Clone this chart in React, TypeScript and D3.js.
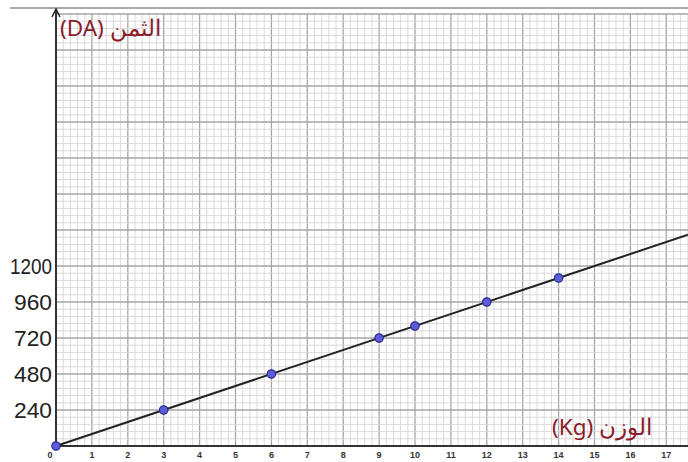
import React from "react";
import * as d3 from "d3";

const weights = [0, 3, 6, 9, 10, 12, 14];
const prices = [0, 240, 480, 720, 800, 960, 1120];
const yTickLabels = [240, 480, 720, 960, 1200];
const xTickLabels = d3.range(0, 18);
const pricePerKg = 80;

const W = 688;
const H = 462;

export default function App() {
  const x = d3.scaleLinear().domain([0, 17]).range([56, 666.3]);
  const y = d3.scaleLinear().domain([0, 2880]).range([446, 14]);
  const xMax = x.invert(W);
  const unitY = 240;

  const minorX = d3.range(0, Math.ceil(xMax * 5) + 1).map((i) => i / 5);
  const minorY = d3.range(0, 12 * 5 + 1).map((i) => (i / 5) * unitY);
  const line = d3
    .line<number>()
    .x((d) => x(d))
    .y((d) => y(d * pricePerKg));

  return (
    <svg width={W} height={H} style={{ position: "absolute", left: 0, top: 0, background: "#fff" }}>
      <rect width={W} height={H} fill="#fff" />
      <line x1={10} x2={W} y1={8} y2={8} stroke="#aaa" strokeWidth={2} />
      {minorX.map((v, i) => (
        <line key={"mx" + i} x1={x(v)} x2={x(v)} y1={y(2880)} y2={y(0)}
          stroke={i % 5 === 0 ? "#a6a6a6" : "#d6d6d6"} strokeWidth={i % 5 === 0 ? 1.3 : 0.9} />
      ))}
      {minorY.map((v, i) => (
        <line key={"my" + i} x1={x(0)} x2={W} y1={y(v)} y2={y(v)}
          stroke={i % 5 === 0 ? "#a6a6a6" : "#d6d6d6"} strokeWidth={i % 5 === 0 ? 1.3 : 0.9} />
      ))}
      {/* axes */}
      <line x1={x(0) - 2} x2={W} y1={y(0)} y2={y(0)} stroke="#333" strokeWidth={2} />
      <line x1={x(0)} x2={x(0)} y1={y(0)} y2={11} stroke="#222" strokeWidth={1.8} />
      <path d={`M${x(0) - 4},17 L${x(0)},9 L${x(0) + 4},17`} fill="none" stroke="#222" strokeWidth={1.5} />
      {/* line */}
      <path d={line([0, xMax]) || ""} fill="none" stroke="#222" strokeWidth={2} />
      {weights.map((w, i) => (
        <circle key={"p" + i} cx={x(w)} cy={y(prices[i])} r={4.2} fill="#5d5ddb" stroke="#2b2b8f" strokeWidth={1.2} />
      ))}
      {/* x tick labels */}
      {xTickLabels.map((t) => (
        <text key={"xt" + t} x={x(t) - (t === 0 ? 6 : 0)} y={458} fontSize={9} fontWeight="bold"
          fontFamily="Liberation Sans, Arial, sans-serif" fill="#333" textAnchor="middle">
          {t}
        </text>
      ))}
      {/* y tick labels */}
      {yTickLabels.map((t) => (
        <text key={"yt" + t} x={52} y={y(t) + 7.5} fontSize={22}
          fontFamily="Liberation Sans, Arial, sans-serif" fill="#222" textAnchor="end"
          textLength={t >= 1000 ? 42 : 38} lengthAdjust="spacingAndGlyphs">
          {t}
        </text>
      ))}
      {/* axis titles */}
      <text x={60} y={36} fontSize={22.5} fill="#8a1c2c" fontFamily="Noto Sans, Roboto, sans-serif">
        {"(DA) الثمن"}
      </text>
      <text x={552} y={435} fontSize={22.5} fill="#8a1c2c" fontFamily="Noto Sans, Roboto, sans-serif">
        {"(Kg) الوزن"}
      </text>
    </svg>
  );
}
